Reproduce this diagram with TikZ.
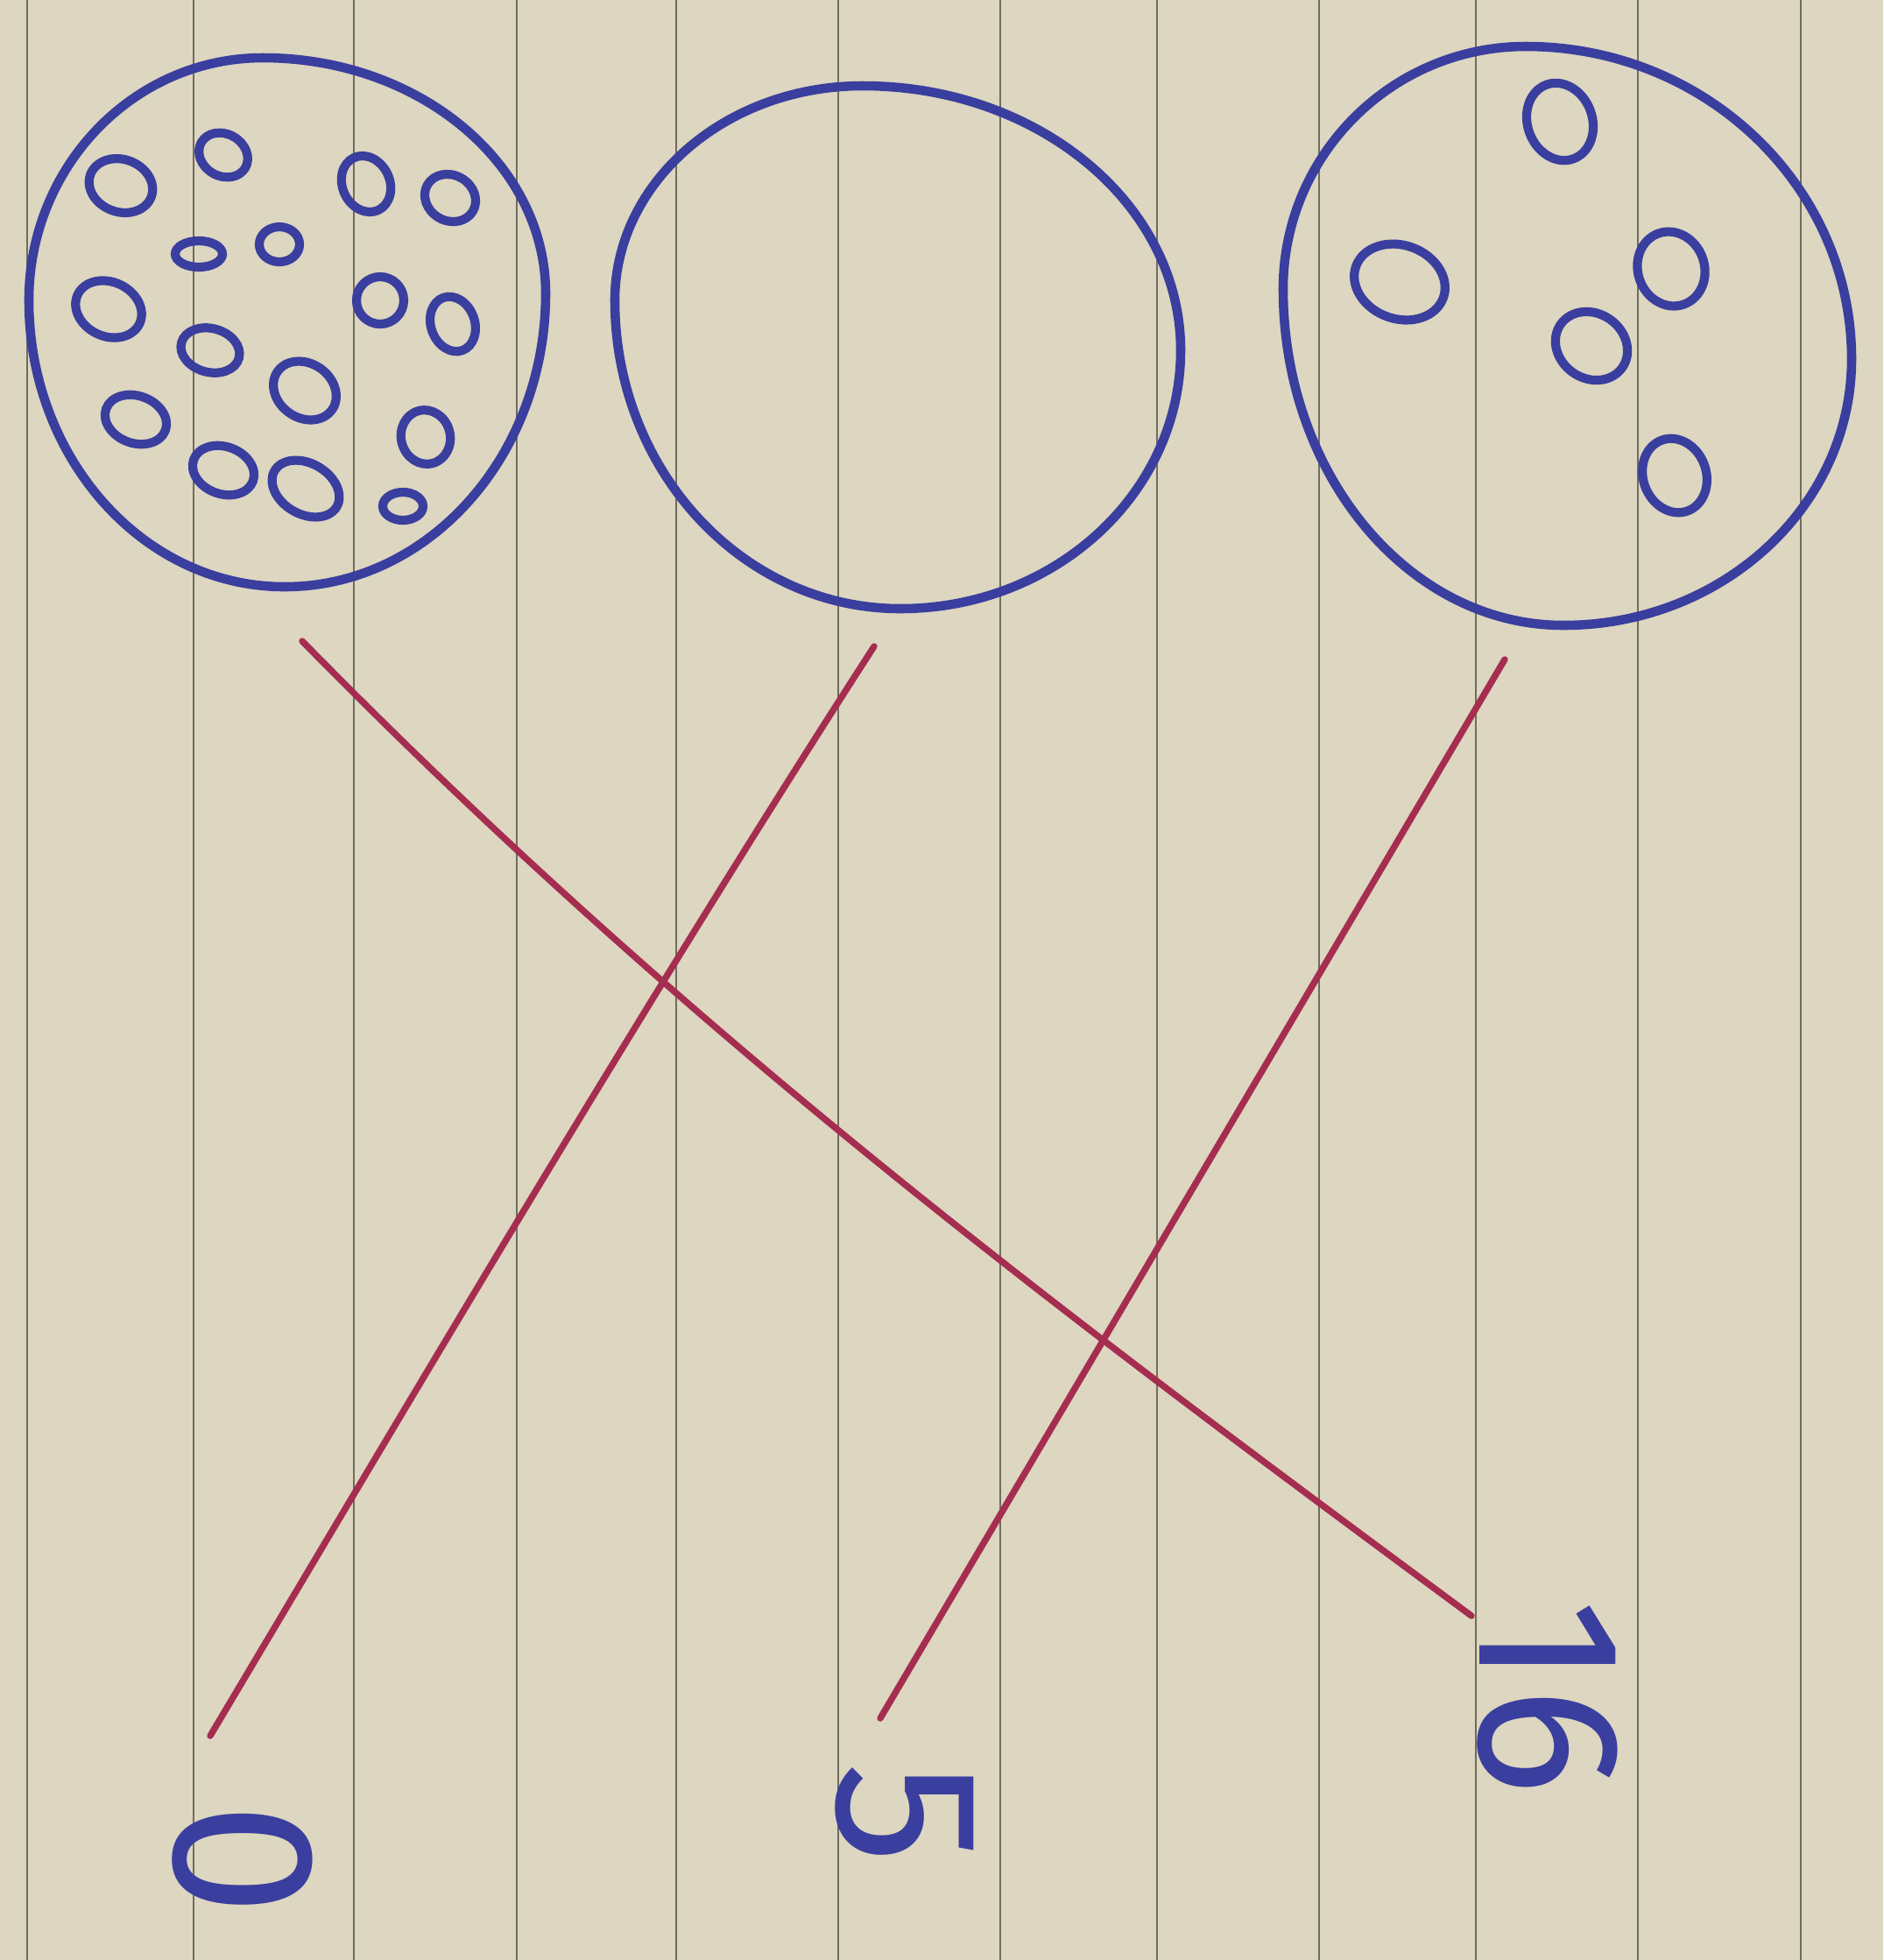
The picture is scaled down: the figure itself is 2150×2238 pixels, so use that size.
\documentclass[tikz,border=0pt]{standalone}
\usepackage{fontspec}
\usetikzlibrary{calc}
\newfontfamily\handfont{Fira Sans}
\definecolor{paper}{RGB}{221,214,192}
\definecolor{rulecol}{RGB}{112,109,95}
\definecolor{inkblue}{RGB}{58,62,158}
\definecolor{redink}{RGB}{165,45,80}
\newcommand\dotat[5]{\draw[dot, shift={(#1,#2)}, rotate=#5] (0,0) ellipse [x radius=#3, y radius=#4];}
% closed hand-drawn loop through its top, right, bottom and left extreme points
\newcommand\blob[4]{%
  \coordinate (bT) at #1; \coordinate (bR) at #2; \coordinate (bB) at #3; \coordinate (bL) at #4;
  \draw[ink] (bT)
    .. controls ($(bT)!0.552!(bT -| bR)$) and ($(bR)!0.552!(bT -| bR)$) .. (bR)
    .. controls ($(bR)!0.552!(bB -| bR)$) and ($(bB)!0.552!(bB -| bR)$) .. (bB)
    .. controls ($(bB)!0.552!(bB -| bL)$) and ($(bL)!0.552!(bB -| bL)$) .. (bL)
    .. controls ($(bL)!0.552!(bT -| bL)$) and ($(bT)!0.552!(bT -| bL)$) .. (bT) -- cycle;}
\begin{document}
\begin{tikzpicture}[x=0.01cm,y=-0.01cm,
  ink/.style={draw=inkblue, line width=3pt, line join=round},
  dot/.style={draw=inkblue, line width=2.9pt},
  redline/.style={draw=redink, line width=2.1pt, line cap=round},
  rule/.style={draw=rulecol, line width=0.8pt},
  lbl/.style={text=inkblue, font=\handfont\fontsize{66}{66}\selectfont, inner sep=0pt, rotate=-90}]
% paper
\fill[paper] (0,0) rectangle (2150,2238);
\useasboundingbox (0,0) rectangle (2150,2238);
\foreach \x in {31,221,404,590,772,957,1142,1321,1506,1685,1870,2056}
  \draw[rule] (\x,0) -- (\x,2238);
% three big circles (top, right, bottom, left)
\blob{(300,66)}{(623,335)}{(325,670)}{(33,343)}
\blob{(985,98)}{(1348,400)}{(1028,695)}{(702,343)}
\blob{(1742,53)}{(2114,410)}{(1785,714)}{(1465,330)}
% dots in circle 1 (16)
\dotat{138}{212}{37}{30}{-20}
\dotat{255}{177}{29}{24}{-30}
\dotat{418}{210}{27}{33}{25}
\dotat{514}{226}{30}{26}{-30}
\dotat{227}{290}{27}{15}{0}
\dotat{319}{279}{23}{20}{0}
\dotat{124}{353}{39}{31}{-25}
\dotat{434}{343}{27}{27}{0}
\dotat{517}{370}{25}{32}{20}
\dotat{240}{400}{34}{25}{-15}
\dotat{348}{446}{38}{31}{-35}
\dotat{155}{479}{36}{27}{-20}
\dotat{486}{499}{28}{31}{15}
\dotat{255}{537}{36}{27}{-20}
\dotat{349}{558}{41}{29}{-30}
\dotat{460}{578}{23}{16}{0}
% dots in circle 3 (5)
\dotat{1781}{139}{37}{45}{20}
\dotat{1598}{322}{53}{42}{-20}
\dotat{1908}{307}{38}{43}{20}
\dotat{1817}{395}{43}{37}{-35}
\dotat{1912}{543}{36}{43}{20}
% labels
\node[lbl] (lab16) at (1767,1938) {16};
\node[lbl] (lab0) at (277,2123) {0};
\node[lbl] (lab5) at (1033,2071) {5};
% connector ends
\coordinate (sA) at (345,732);
\coordinate (eA) at (1680,1845);
\coordinate (sB) at (998,738);
\coordinate (eB) at (240,1982);
\coordinate (sC) at (1718,753);
\coordinate (eC) at (1005,1962);
\draw[redline] (sA) .. controls (795,1191) and (1230,1512) .. (eA);
\draw[redline] (sB) .. controls (740,1138) and (478,1582) .. (eB);
\draw[redline] (sC) -- (eC);
\end{tikzpicture}
\end{document}
